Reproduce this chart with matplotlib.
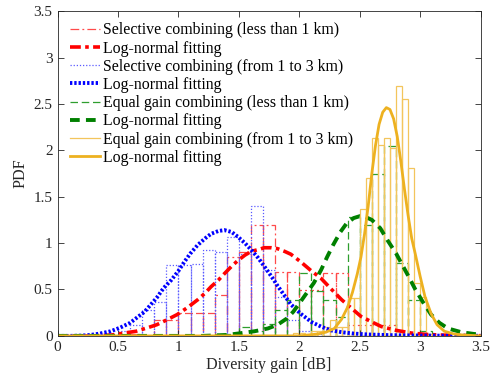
import numpy as np
import matplotlib
matplotlib.use('Agg')
import matplotlib.pyplot as plt
from matplotlib.lines import Line2D

plt.rcParams['font.family'] = 'Liberation Serif'

# histogram bars: first left edge, bin width, heights
sc1_start, sc1_width = 0.6, 0.1
sc1_heights = [0.02, 0.0, 0.17, 0.17, 0.25, 0.25, 0.25, 0.44, 0.85, 0.90, 1.19, 1.19,
               0.69, 0.69, 0.49, 0.49, 0.68, 0.68, 0.12, 0.12, 0.12, 0.12]

sc3_start, sc3_width = 0.5, 0.1
sc3_heights = [0.05, 0.12, 0.28, 0.36, 0.76, 0.76, 0.77, 0.93, 0.90, 1.07, 0.88, 1.40,
               0.71, 0.42, 0.17, 0.05, 0.02]

eg1_start, eg1_width = 1.3, 0.1
eg1_heights = [0.02, 0.02, 0.10, 0.05, 0.13, 0.28, 0.39, 0.68, 0.48, 0.39, 0.20,
               1.28, 1.19, 1.74, 2.05, 0.79, 0.39, 0.05]

eg3_start, eg3_width = 1.95, 0.05
eg3_heights = [0.03, 0.03, 0.0, 0.05, 0.05, 0.10, 0.17, 0.10, 0.10, 0.41, 0.41, 1.37,
               1.70, 2.13, 2.06, 2.13, 2.02, 2.69, 2.55, 1.81, 0.57, 0.42, 0.02]

# log-normal fits
sc1_fit_x = [0, 0.3, 0.45, 0.55, 0.65, 0.75, 0.82, 0.9, 0.99, 1.08, 1.16, 1.22, 1.27, 1.33,
             1.38, 1.44, 1.49, 1.55, 1.6, 1.66, 1.71, 1.77, 1.82, 1.88, 1.93, 2.01, 2.1,
             2.18, 2.26, 2.35, 2.43, 2.51, 2.6, 2.68, 2.8, 2.93, 3.06, 3.2, 3.5]
sc1_fit_y = [0, 0.0, 0.01, 0.03, 0.05, 0.09, 0.12, 0.17, 0.23, 0.31, 0.39, 0.46, 0.53, 0.60,
             0.67, 0.75, 0.81, 0.87, 0.91, 0.93, 0.95, 0.95, 0.94, 0.91, 0.88, 0.80, 0.70,
             0.62, 0.51, 0.39, 0.30, 0.21, 0.15, 0.10, 0.06, 0.03, 0.015, 0.008, 0.002]

sc3_fit_x = [0, 0.1, 0.2, 0.27, 0.35, 0.44, 0.52, 0.6, 0.66, 0.72, 0.78, 0.82, 0.88, 0.94,
             1.0, 1.05, 1.1, 1.16, 1.22, 1.27, 1.33, 1.38, 1.44, 1.49, 1.55, 1.6, 1.66,
             1.71, 1.77, 1.82, 1.88, 1.93, 2.01, 2.1, 2.18, 2.26, 2.35, 2.45, 2.57, 2.75,
             2.93, 3.2, 3.5]
sc3_fit_y = [0, 0.0, 0.003, 0.01, 0.025, 0.05, 0.09, 0.14, 0.2, 0.26, 0.35, 0.41, 0.52, 0.6,
             0.7, 0.8, 0.89, 0.98, 1.05, 1.1, 1.13, 1.14, 1.12, 1.07, 1.0, 0.93, 0.84,
             0.75, 0.64, 0.54, 0.43, 0.34, 0.24, 0.15, 0.1, 0.06, 0.04, 0.025, 0.015, 0.008,
             0.005, 0.002, 0.001]

eg1_fit_x = [0, 1.2, 1.4, 1.52, 1.63, 1.74, 1.82, 1.9, 1.95, 2.0, 2.06, 2.12, 2.18, 2.23,
             2.28, 2.34, 2.39, 2.45, 2.5, 2.55, 2.6, 2.67, 2.73, 2.8, 2.85, 2.9, 2.96, 3.02,
             3.09, 3.16, 3.23, 3.34, 3.45, 3.5]
eg1_fit_y = [0, 0.0, 0.01, 0.03, 0.05, 0.08, 0.12, 0.19, 0.26, 0.35, 0.46, 0.57, 0.71, 0.85,
             0.98, 1.12, 1.21, 1.27, 1.29, 1.28, 1.25, 1.16, 1.03, 0.89, 0.77, 0.65, 0.5, 0.37,
             0.23, 0.14, 0.08, 0.04, 0.02, 0.015]

eg3_fit_x = [0, 2.0, 2.15, 2.22, 2.29, 2.35, 2.4, 2.44, 2.48, 2.51, 2.54, 2.57, 2.6, 2.63,
             2.66, 2.69, 2.72, 2.75, 2.78, 2.81, 2.84, 2.87, 2.9, 2.93, 2.96, 3.0, 3.04,
             3.09, 3.14, 3.2, 3.28, 3.35, 3.5]
eg3_fit_y = [0, 0.0, 0.02, 0.04, 0.08, 0.18, 0.31, 0.47, 0.67, 0.85, 1.1, 1.4, 1.75, 2.05,
             2.28, 2.41, 2.46, 2.44, 2.34, 2.15, 1.88, 1.58, 1.3, 1.05, 0.88, 0.64, 0.42,
             0.24, 0.12, 0.05, 0.02, 0.01, 0.0]

labels = ['Selective combining (less than 1 km)', 'Log-normal fitting',
          'Selective combining (from 1 to 3 km)', 'Log-normal fitting',
          'Equal gain combining (less than 1 km)', 'Log-normal fitting',
          'Equal gain combining (from 1 to 3 km)', 'Log-normal fitting']

red = '#FF0000'
blue = '#0000FF'
green = '#008000'
yellow = '#EDB120'
red_h = '#FF4A4A'
blue_h = '#5A5AFF'
green_h = '#2E9E2E'
yellow_h = '#F3C55C'

ls_red_h = (0, (7, 2.5, 1.5, 2.5))
ls_red_f = (0, (3, 1.2, 1, 1.2))
ls_blue_h = (0, (1, 1.5))
ls_blue_f = (0, (0.6, 0.5))
ls_green_h = (0, (6, 3))
ls_green_f = (0, (2.5, 1.6))

fig, ax = plt.subplots(figsize=(4.96, 3.83), dpi=100)
fig.subplots_adjust(left=0.116, right=0.969, bottom=0.123, top=0.971)


def hist_bars(start, width, heights, color, ls):
    lefts = start + width * np.arange(len(heights))
    ax.bar(lefts, heights, width=width, align='edge', fill=False,
           edgecolor=color, linestyle=ls, linewidth=0.9)


hist_bars(sc1_start, sc1_width, sc1_heights, red_h, ls_red_h)
ax.plot(sc1_fit_x, sc1_fit_y, color=red, lw=2.6, ls=ls_red_f)
hist_bars(sc3_start, sc3_width, sc3_heights, blue_h, ls_blue_h)
ax.plot(sc3_fit_x, sc3_fit_y, color=blue, lw=2.8, ls=ls_blue_f)
hist_bars(eg1_start, eg1_width, eg1_heights, green_h, ls_green_h)
ax.plot(eg1_fit_x, eg1_fit_y, color=green, lw=2.8, ls=ls_green_f)
hist_bars(eg3_start, eg3_width, eg3_heights, yellow_h, '-')
ax.plot(eg3_fit_x, eg3_fit_y, color=yellow, lw=2.0)

handles = [
    Line2D([], [], color=red_h, lw=0.9, ls=ls_red_h),
    Line2D([], [], color=red, lw=2.6, ls=ls_red_f),
    Line2D([], [], color=blue_h, lw=0.9, ls=ls_blue_h),
    Line2D([], [], color=blue, lw=2.8, ls=ls_blue_f),
    Line2D([], [], color=green_h, lw=0.9, ls=ls_green_h),
    Line2D([], [], color=green, lw=2.8, ls=ls_green_f),
    Line2D([], [], color=yellow_h, lw=0.9),
    Line2D([], [], color=yellow, lw=2.0),
]
ax.legend(handles, labels, loc='upper left', frameon=False, fontsize=11.4,
          handlelength=1.9, handletextpad=0.2, labelspacing=0.14,
          borderaxespad=0.0, bbox_to_anchor=(0.014, 0.985))

ax.set_xlim(0, 3.5)
ax.set_ylim(0, 3.5)
ax.set_xticks(np.arange(0, 3.51, 0.5))
ax.set_yticks(np.arange(0, 3.51, 0.5))
ax.set_xticklabels(['0', '0.5', '1', '1.5', '2', '2.5', '3', '3.5'])
ax.set_yticklabels(['0', '0.5', '1', '1.5', '2', '2.5', '3', '3.5'])
ax.tick_params(direction='in', top=True, right=True, labelsize=11,
               length=4, width=0.6, colors='#262626', labelcolor='#262626')
for s in ax.spines.values():
    s.set_linewidth(0.6)
    s.set_color('#262626')
ax.set_xlabel('Diversity gain [dB]', fontsize=11.6, color='#262626', labelpad=2)
ax.set_ylabel('PDF', fontsize=11.6, color='#262626', labelpad=4)

fig.savefig('out.png', dpi=100)
